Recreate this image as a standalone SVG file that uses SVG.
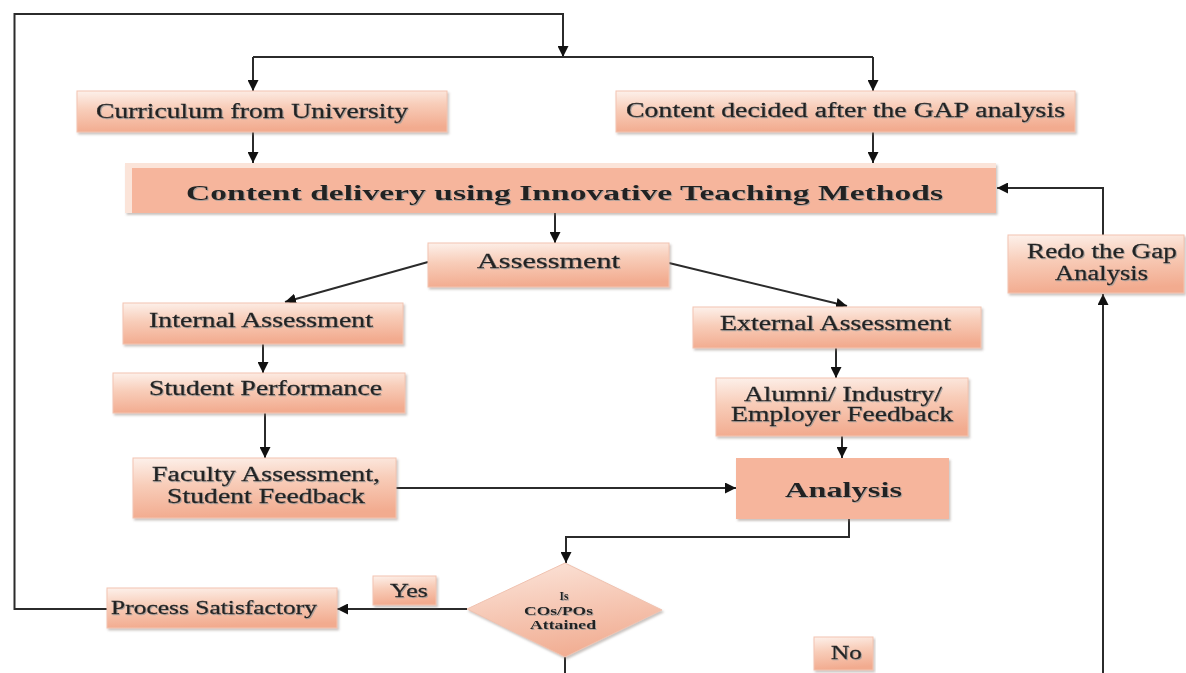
<svg xmlns="http://www.w3.org/2000/svg" width="1186" height="673" viewBox="0 0 1186 673">
<defs>
<linearGradient id="g" x1="0" y1="0" x2="0.15" y2="1">
<stop offset="0" stop-color="#fdf1eb"/>
<stop offset="0.45" stop-color="#f8cdb9"/>
<stop offset="1" stop-color="#f2ab8f"/>
</linearGradient>
<linearGradient id="gd" x1="0.2" y1="0" x2="0.5" y2="1">
<stop offset="0" stop-color="#fbe3d8"/>
<stop offset="1" stop-color="#f1ad92"/>
</linearGradient>
<filter id="sh" x="-5%" y="-10%" width="110%" height="130%">
<feDropShadow dx="1.5" dy="2" stdDeviation="1" flood-color="#8a7a74" flood-opacity="0.45"/>
</filter>
<filter id="ts" x="-5%" y="-20%" width="110%" height="150%">
<feDropShadow dx="1" dy="1" stdDeviation="0.5" flood-color="#9a9a9a" flood-opacity="0.8"/>
</filter>
<marker id="ah" viewBox="0 0 10 10" refX="10" refY="5" markerWidth="11" markerHeight="11" markerUnits="userSpaceOnUse" orient="auto">
<path d="M0,0 L10,5 L0,10 z" fill="#111"/>
</marker>
</defs>
<style>
.box{fill:url(#g);stroke:#f3c4b1;stroke-width:1;filter:url(#sh)}
.solid{fill:#f6b59c;filter:url(#sh)}
.t{font-family:"Liberation Serif","Times New Roman",serif;font-size:20px;fill:#222;stroke:#222;stroke-width:0.3;filter:url(#ts)}
.b{font-weight:bold;stroke-width:0}
.m{text-anchor:middle}
.s{font-size:11.5px}
.c{fill:none;stroke:#2b2b2b;stroke-width:2}
.a{marker-end:url(#ah)}
</style>
<rect width="1186" height="673" fill="#ffffff"/>

<g id="connectors">
<polyline class="c a" points="107,609 14.5,609 14.5,14 563,14 563,57"/>
<polyline class="c" points="253,57 873,57"/>
<line class="c a" x1="253" y1="57" x2="253" y2="91"/>
<line class="c a" x1="873" y1="57" x2="873" y2="91"/>
<line class="c a" x1="253" y1="132" x2="253" y2="163"/>
<line class="c a" x1="873" y1="132" x2="873" y2="163"/>
<line class="c a" x1="555" y1="213" x2="555" y2="243"/>
<line class="c a" x1="428" y1="262" x2="285" y2="302"/>
<line class="c a" x1="669" y1="263" x2="847" y2="306"/>
<line class="c a" x1="263" y1="344" x2="263" y2="373"/>
<line class="c a" x1="265" y1="413" x2="265" y2="458"/>
<line class="c a" x1="396" y1="488" x2="736" y2="488"/>
<line class="c a" x1="836" y1="348" x2="836" y2="378"/>
<line class="c a" x1="842" y1="436" x2="842" y2="458"/>
<polyline class="c a" points="849,519 849,537 566,537 566,563"/>
<line class="c a" x1="467" y1="609" x2="337" y2="609"/>
<line class="c" x1="565" y1="657" x2="565" y2="673"/>
<line class="c a" x1="1103" y1="673" x2="1103" y2="294"/>
<polyline class="c a" points="1103,235 1103,188 997,188"/>
</g>

<g id="curriculum">
<rect class="box" x="77" y="91" width="370" height="41"/>
<text class="t" x="96" y="118" textLength="312" lengthAdjust="spacingAndGlyphs">Curriculum from University</text>
</g>

<g id="content-decided">
<rect class="box" x="616" y="91" width="459" height="41"/>
<text class="t" x="626" y="117" textLength="439" lengthAdjust="spacingAndGlyphs">Content decided after the GAP analysis</text>
</g>

<g id="content-delivery">
<rect x="125" y="163" width="871" height="50" fill="#fbe4d9" filter="url(#sh)"/>
<rect x="132" y="168" width="864" height="45" fill="#f6b59c"/>
<text class="t b" x="186" y="200" style="font-size:22px" textLength="757" lengthAdjust="spacingAndGlyphs">Content delivery using Innovative Teaching Methods</text>
</g>

<g id="assessment">
<rect class="box" x="428" y="243" width="241" height="44"/>
<text class="t" x="477" y="268" style="font-size:21px" textLength="143" lengthAdjust="spacingAndGlyphs">Assessment</text>
</g>

<g id="internal">
<rect class="box" x="123" y="303" width="280" height="41"/>
<text class="t" x="149" y="327" textLength="224" lengthAdjust="spacingAndGlyphs">Internal Assessment</text>
</g>

<g id="student-performance">
<rect class="box" x="113" y="373" width="292" height="40"/>
<text class="t" x="149" y="395" textLength="233" lengthAdjust="spacingAndGlyphs">Student Performance</text>
</g>

<g id="faculty">
<rect class="box" x="133" y="458" width="263" height="60"/>
<text class="t" x="152" y="481" textLength="228" lengthAdjust="spacingAndGlyphs">Faculty Assessment,</text>
<text class="t" x="167" y="503" textLength="198" lengthAdjust="spacingAndGlyphs">Student Feedback</text>
</g>

<g id="external">
<rect class="box" x="693" y="307" width="288" height="41"/>
<text class="t" x="720" y="330" textLength="231" lengthAdjust="spacingAndGlyphs">External Assessment</text>
</g>

<g id="alumni">
<rect class="box" x="716" y="378" width="252" height="58"/>
<text class="t" x="744" y="401" textLength="198" lengthAdjust="spacingAndGlyphs">Alumni/ Industry/</text>
<text class="t" x="731" y="421" textLength="222" lengthAdjust="spacingAndGlyphs">Employer Feedback</text>
</g>

<g id="analysis">
<rect class="solid" x="736" y="458" width="213" height="61"/>
<text class="t b" x="785" y="497" style="font-size:21px" textLength="117" lengthAdjust="spacingAndGlyphs">Analysis</text>
</g>

<g id="redo">
<rect class="box" x="1008" y="235" width="176" height="58"/>
<text class="t" x="1027" y="258" textLength="150" lengthAdjust="spacingAndGlyphs">Redo the Gap</text>
<text class="t" x="1055" y="280" textLength="93" lengthAdjust="spacingAndGlyphs">Analysis</text>
</g>

<g id="decision">
<polygon points="565,563 662,610 565,657 467,609" fill="url(#gd)" stroke="#f0c2b0" stroke-width="1" filter="url(#sh)"/>
<text class="t b m s" x="564" y="600">Is</text>
<text class="t b s" x="524" y="615" textLength="69" lengthAdjust="spacingAndGlyphs">COs/POs</text>
<text class="t b s" x="530" y="629" textLength="66" lengthAdjust="spacingAndGlyphs">Attained</text>
</g>

<g id="process">
<rect class="box" x="107" y="588" width="230" height="40"/>
<text class="t" x="111" y="614" style="font-size:19px" textLength="206" lengthAdjust="spacingAndGlyphs">Process Satisfactory</text>
</g>

<g id="yes">
<rect class="box" x="373" y="576" width="63" height="29"/>
<text class="t" x="390" y="597" style="font-size:19px" textLength="38" lengthAdjust="spacingAndGlyphs">Yes</text>
</g>

<g id="no">
<rect class="box" x="814" y="637" width="59" height="33"/>
<text class="t" x="831" y="659" style="font-size:19px" textLength="31" lengthAdjust="spacingAndGlyphs">No</text>
</g>
</svg>
